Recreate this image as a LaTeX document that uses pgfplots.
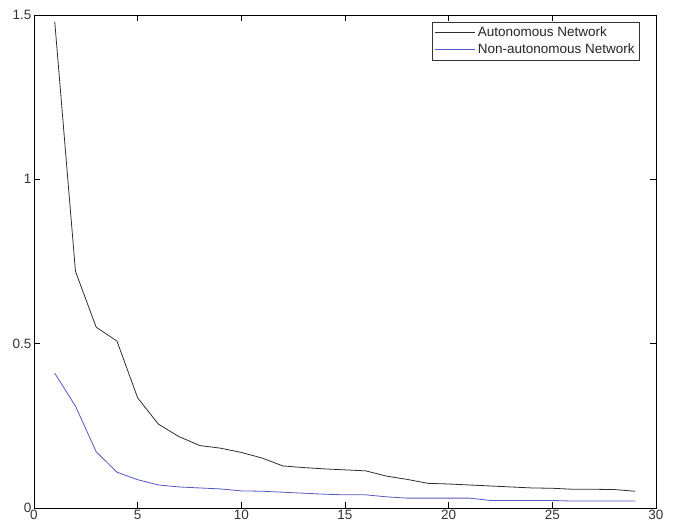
\documentclass[border=0pt]{standalone}
\usepackage{pgfplots}
\pgfplotsset{compat=1.18}
\usepackage{fontspec}
\setmainfont{Liberation Sans}
\definecolor{autoc}{rgb}{0.18,0.18,0.18}
\definecolor{nonc}{rgb}{0.33,0.35,0.75}
\begin{document}
\begin{tikzpicture}
\begin{axis}[
  at={(0pt,0pt)}, anchor=south west,
  scale only axis, width=622pt, height=493pt,
  xmin=0, xmax=30, ymin=0, ymax=1.5,
  xtick={0,5,...,30}, ytick={0,0.5,1,1.5},
  yticklabels={0,0.5,1,1.5},
  tick align=inside, major tick length=6pt,
  tick style={black, line width=0.6pt},
  axis line style={line width=0.6pt},
  tick label style={font=\fontsize{13.5}{15}\selectfont, text=black!80},
  /pgf/number format/assume math mode=true,
  xticklabel style={yshift=1.5pt},
  yticklabel style={xshift=1pt},
  legend style={at={(rel axis cs:1,1)}, xshift=-16pt, yshift=-7pt, anchor=north east,
    font=\fontsize{13.5}{16}\selectfont, text=black!85, draw=black!80, line width=0.6pt,
    inner xsep=3pt, inner ysep=2.5pt, row sep=2pt},
  legend cell align=left,
  legend image code/.code={\draw[#1] (0pt,0pt) -- (40pt,0pt);},
]
\addplot[autoc, line width=0.8pt] coordinates {
(1,1.48) (2,0.72) (3,0.55) (4,0.508) (5,0.335) (6,0.255) (7,0.217) (8,0.19)
(9,0.182) (10,0.169) (11,0.152) (12,0.128) (13,0.123) (14,0.119) (15,0.116)
(16,0.113) (17,0.097) (18,0.087) (19,0.075) (20,0.073) (21,0.070) (22,0.067)
(23,0.064) (24,0.061) (25,0.060) (26,0.057) (27,0.057) (28,0.056) (29,0.051)
};
\addlegendentry{Autonomous Network}
\addplot[nonc, line width=0.8pt] coordinates {
(1,0.41) (2,0.31) (3,0.171) (4,0.109) (5,0.086) (6,0.070) (7,0.064) (8,0.061)
(9,0.058) (10,0.052) (11,0.051) (12,0.048) (13,0.045) (14,0.042) (15,0.040)
(16,0.040) (17,0.034) (18,0.030) (19,0.030) (20,0.030) (21,0.030) (22,0.023)
(23,0.023) (24,0.023) (25,0.023) (26,0.021) (27,0.021) (28,0.021) (29,0.021)
};
\addlegendentry{Non-autonomous Network}
\end{axis}
\pgfresetboundingbox
\path[use as bounding box] (-34pt,-16pt) rectangle (644pt,508pt);
\end{tikzpicture}
\end{document}
